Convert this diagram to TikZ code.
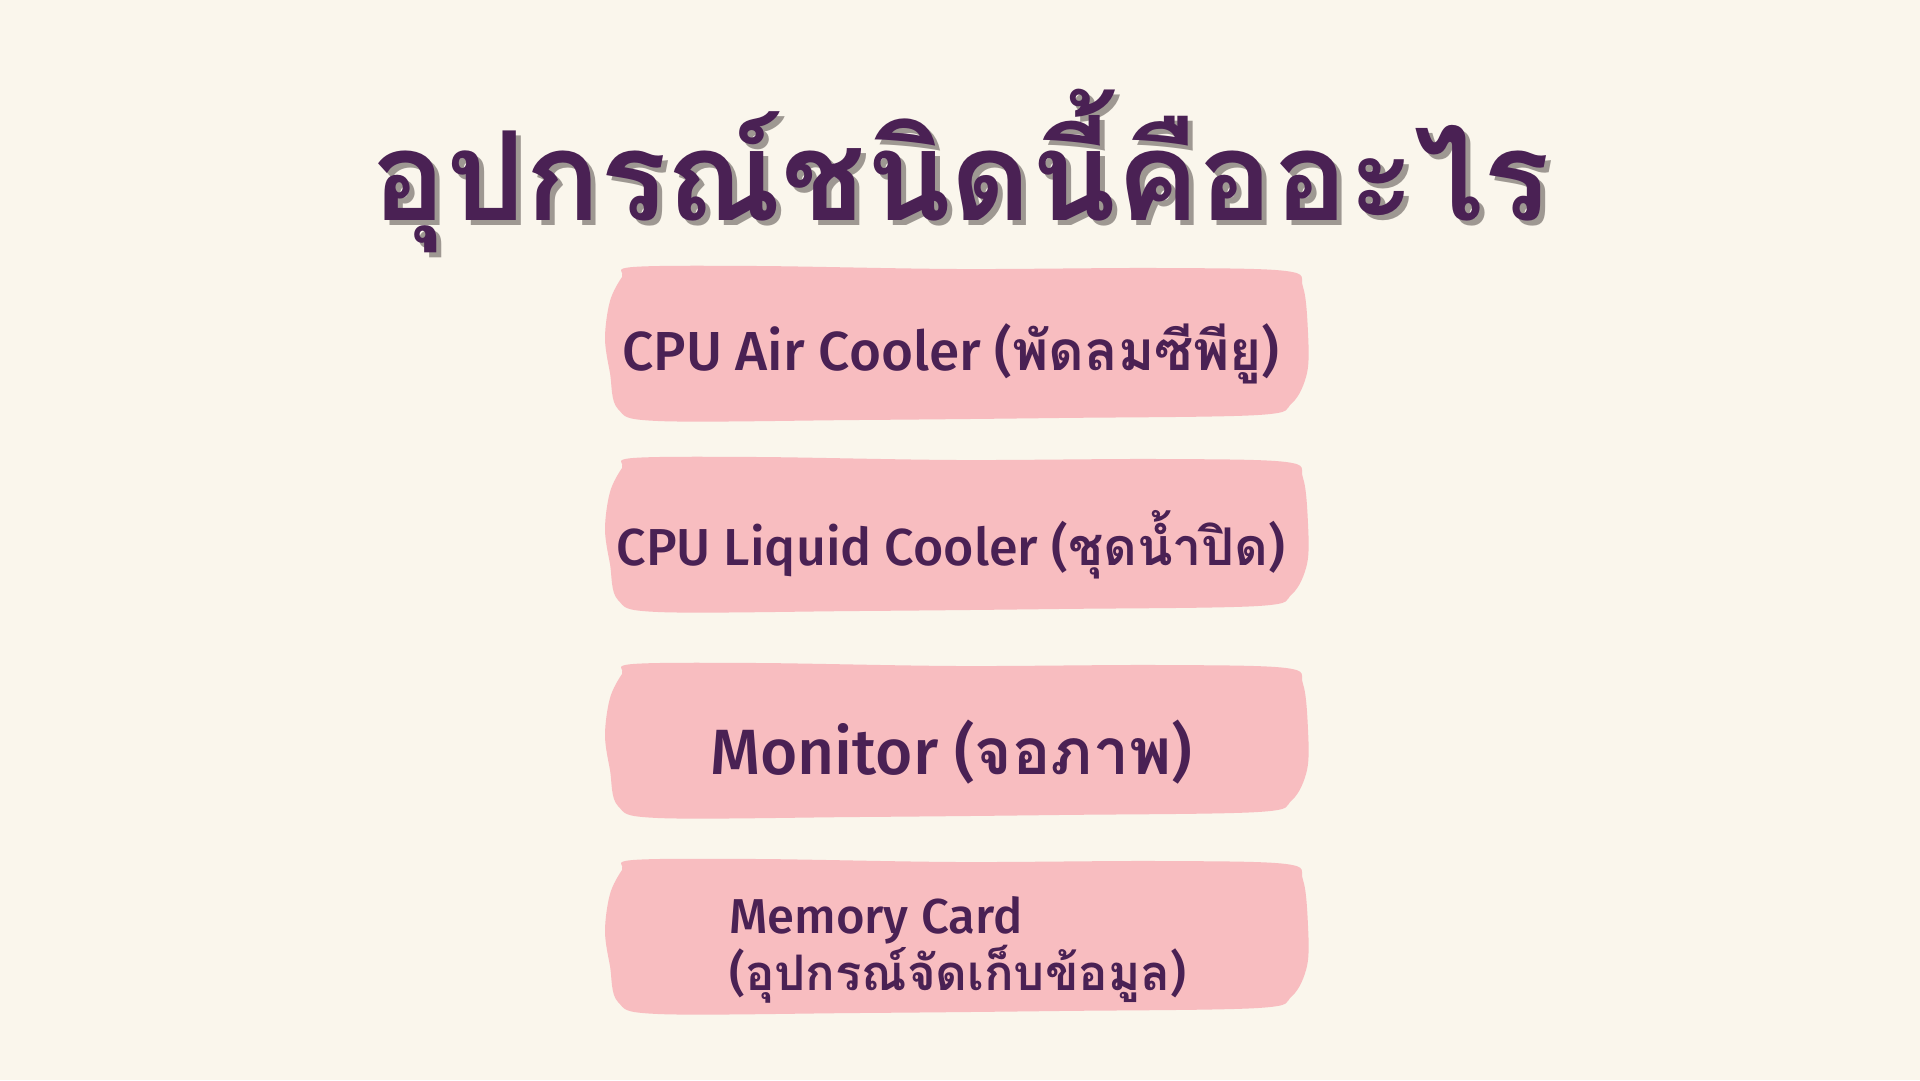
\documentclass[tikz,border=0pt]{standalone}
\usepackage{fontspec}
\setmainfont{Fira Sans}[UprightFont={* Medium}]
\newfontfamily\thai[Script=Thai]{Loma}
\definecolor{cream}{HTML}{FAF6EC}
\definecolor{brushpink}{HTML}{F8BDC0}
\definecolor{plum}{HTML}{4A2154}
\definecolor{shade}{HTML}{9E9892}
\newcommand\thaitext[1]{{\thai\bfseries #1}}
\tikzset{
  item/.style={text=plum, font=\fontsize{55}{66}\selectfont, inner sep=0pt},
  headline/.style={font=\thai\bfseries\fontsize{124}{150}\selectfont, inner sep=0pt, anchor=base}
}
% brush stroke behind one entry, #1 = centre y
\newcommand\brushbox[1]{%
  \fill[brushpink, shift={(958,#1)}] plot[smooth cycle, tension=0.55] coordinates {
    (-325,-76) (-200,-77) (0,-74) (200,-75) (328,-72) (345,-56) (350,-10) (349,30)
    (334,60) (300,72) (100,75) (-100,77) (-300,78) (-340,66) (-348,30) (-353,-5)
    (-348,-42) (-336,-66)};
}
\begin{document}
\begin{tikzpicture}[x=1pt,y=-1pt]
\useasboundingbox[fill=cream] (0,0) rectangle (1920,1080);

% title with its drop shadow
\node[headline, text=shade] (titleshadow) at (966,225) {อุปกรณ์ชนิดนี้คืออะไร};
\node[headline, text=plum] (title) at (961,220) {อุปกรณ์ชนิดนี้คืออะไร};

% brush strokes
\brushbox{343}
\brushbox{534}
\brushbox{740}
\brushbox{936}

% entries
\node[item] (air) at (951,354) {CPU Air Cooler (\thaitext{พัดลมซีพียู})};
\node[item, font=\fontsize{52}{62}\selectfont] (liquid) at (951,545) {CPU Liquid Cooler (\thaitext{ชุดน้ำปิด})};
\node[item, font=\fontsize{64}{76}\selectfont] (monitor) at (951,752) {Monitor (\thaitext{จอภาพ})};
\node[item, font=\fontsize{49}{53}\selectfont, align=left, anchor=west] (memory) at (729,950) {Memory Card\\(\thaitext{อุปกรณ์จัดเก็บข้อมูล})};
\end{tikzpicture}
\end{document}
